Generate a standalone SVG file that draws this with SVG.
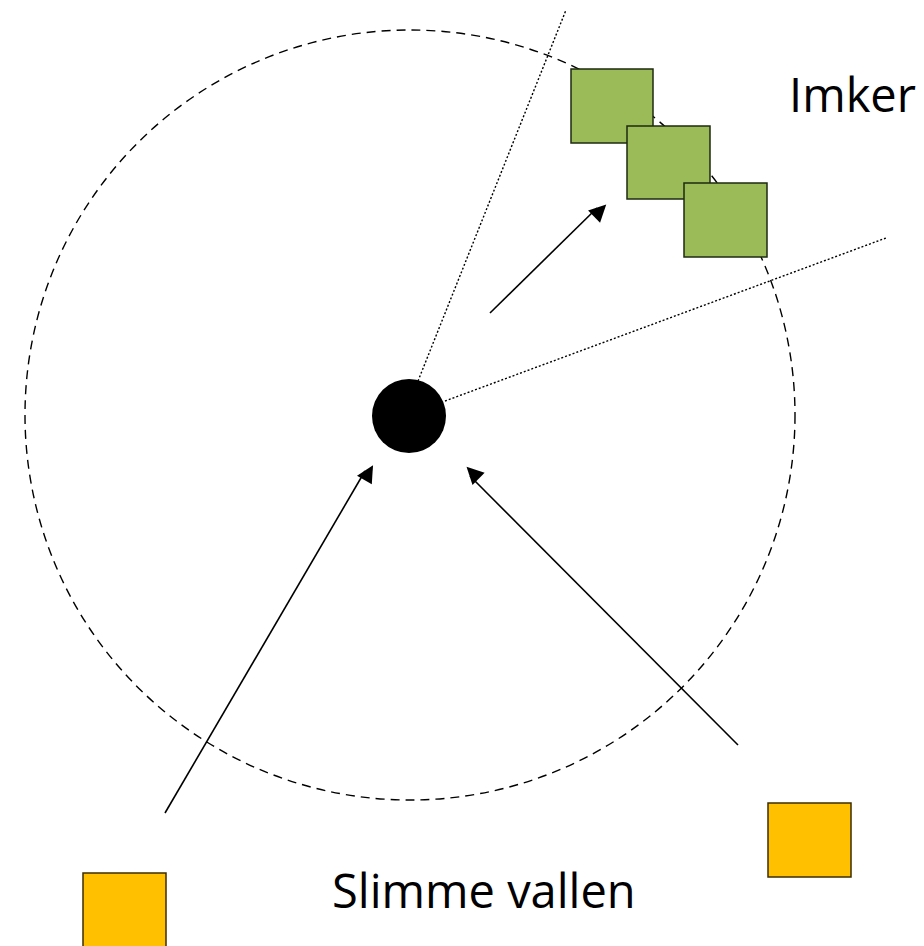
<svg xmlns="http://www.w3.org/2000/svg" width="924" height="946" viewBox="0 0 924 946">
<style>
.lbl{font-family:"Open Sans","Noto Sans",sans-serif;font-size:47px;fill:#000}
.arr{stroke:#000;stroke-width:1.6;fill:none;marker-end:url(#ah)}
.dot{stroke:#000;stroke-width:1.4;stroke-dasharray:2 2;fill:none}
.green{fill:#9BBB59;stroke:#1e2a10;stroke-width:1.5}
.orange{fill:#FFC000;stroke:#3d2c00;stroke-width:1.5}
</style>
<defs>
<marker id="ah" viewBox="0 0 10 10" refX="9" refY="5" markerWidth="10" markerHeight="9" markerUnits="userSpaceOnUse" orient="auto" overflow="visible">
<path d="M0,0 L10,5 L0,10 z" transform="scale(1.9)" fill="#000"/>
</marker>
</defs>
<rect width="924" height="946" fill="#fff"/>
<g id="range">
<circle cx="410" cy="415" r="385" fill="none" stroke="#000" stroke-width="1.4" stroke-dasharray="9 6"/>
</g>
<g id="connectors">
<line class="dot" x1="418" y1="381" x2="566" y2="10"/>
<line class="dot" x1="445" y1="401" x2="886" y2="238"/>
<line class="arr" x1="490" y1="313" x2="597" y2="208"/>
<line class="arr" x1="165" y1="813" x2="365" y2="471"/>
<line class="arr" x1="738" y1="745" x2="470" y2="476"/>
</g>
<g id="hive">
<circle cx="409" cy="416" r="37" fill="#000"/>
</g>
<g id="imker">
<rect class="green" x="571" y="69" width="82" height="74"/>
<rect class="green" x="627" y="126" width="83" height="73"/>
<rect class="green" x="684" y="183" width="83" height="74"/>
<text class="lbl" x="789" y="112">Imker</text>
</g>
<g id="vallen">
<rect class="orange" x="83" y="873" width="83" height="80"/>
<rect class="orange" x="768" y="803" width="83" height="74"/>
<text class="lbl" x="332" y="908">Slimme vallen</text>
</g>
</svg>
